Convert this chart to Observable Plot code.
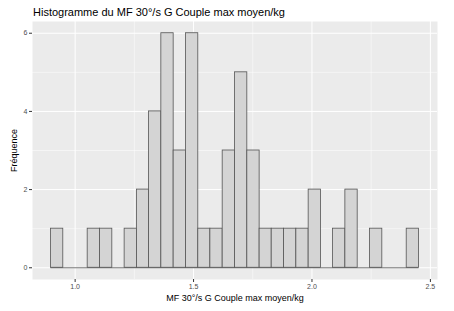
<!DOCTYPE html>
<html>
<head>
<meta charset="utf-8">
<script src="https://cdn.jsdelivr.net/npm/d3@7"></script>
<script src="https://cdn.jsdelivr.net/npm/@observablehq/plot@0.6"></script>
<style>
  html, body { margin: 0; padding: 0; background: #fff; }
  body { width: 454px; height: 311px; overflow: hidden; font-family: "Liberation Sans", Arial, sans-serif; }
  #title { height: 20px; padding-left: 33px; font-size: 11px; line-height: 24px; color: #000; white-space: nowrap; }
  svg { display: block; }
</style>
</head>
<body>
<div id="title">Histogramme du MF 30°/s G Couple max moyen/kg</div>
<div id="chart"></div>
<script>
// bin edges (left edge of each bin, plus final right edge)
const binEdges = [0.898, 0.950, 1.002, 1.053, 1.105, 1.157, 1.209, 1.261, 1.312, 1.364,
                  1.416, 1.468, 1.520, 1.571, 1.623, 1.675, 1.727, 1.779, 1.830, 1.882,
                  1.934, 1.986, 2.038, 2.089, 2.141, 2.193, 2.245, 2.297, 2.348, 2.400, 2.452];
// counts per bin
const counts = [1, 0, 0, 1, 1, 0, 1, 2, 4, 6,
                3, 6, 1, 1, 3, 5, 3, 1, 1, 1,
                1, 2, 0, 1, 2, 0, 1, 0, 0, 1];
const xTicks = [1.0, 1.5, 2.0, 2.5];
const xMinor = [1.25, 1.75, 2.25];
const yTicks = [0, 2, 4, 6];
const yMinor = [1, 3, 5];
const xTitle = "MF 30°/s G Couple max moyen/kg";
const yTitle = "Fréquence";

const bins = counts.map((c, i) => ({x1: binEdges[i], x2: binEdges[i + 1], count: c}));

const chart = Plot.plot({
  width: 454,
  height: 291,
  marginTop: 1,
  marginBottom: 32,
  marginLeft: 32,
  marginRight: 17,
  style: {fontFamily: "Liberation Sans, Arial, sans-serif", background: "transparent"},
  x: {domain: [0.82, 2.53]},
  y: {domain: [-0.3, 6.3]},
  marks: [
    Plot.frame({fill: "#EBEBEB", stroke: null}),
    Plot.gridX(xMinor, {stroke: "#fff", strokeOpacity: 1, strokeWidth: 0.5}),
    Plot.gridY(yMinor, {stroke: "#fff", strokeOpacity: 1, strokeWidth: 0.5}),
    Plot.gridX(xTicks, {stroke: "#fff", strokeOpacity: 1, strokeWidth: 1}),
    Plot.gridY(yTicks, {stroke: "#fff", strokeOpacity: 1, strokeWidth: 1}),
    Plot.rectY(bins, {x1: "x1", x2: "x2", y1: 0, y2: "count", fill: "#D4D4D4", stroke: "#555", strokeWidth: 0.8, inset: 0}),
    Plot.ruleY([0], {x1: binEdges[0], x2: binEdges[binEdges.length - 1], stroke: "#555", strokeWidth: 0.8}),
    Plot.axisX(xTicks, {tickSize: 3, tickPadding: 2, stroke: "#333", color: "#4D4D4D", fontSize: 7,
      tickFormat: d3.format(".1f"), label: xTitle, labelAnchor: "center", labelArrow: "none", labelOffset: 21}),
    Plot.axisY(yTicks, {tickSize: 3, tickPadding: 2, stroke: "#333", color: "#4D4D4D", fontSize: 7,
      label: yTitle, labelAnchor: "center", labelArrow: "none", labelOffset: 22})
  ]
});
document.getElementById("chart").appendChild(chart);
// axis titles: black and slightly larger
chart.querySelectorAll("[aria-label='x-axis label'] text, [aria-label='y-axis label'] text").forEach(t => {
  t.setAttribute("fill", "#000");
  t.style.fontSize = "9px";
});
</script>
</body>
</html>
